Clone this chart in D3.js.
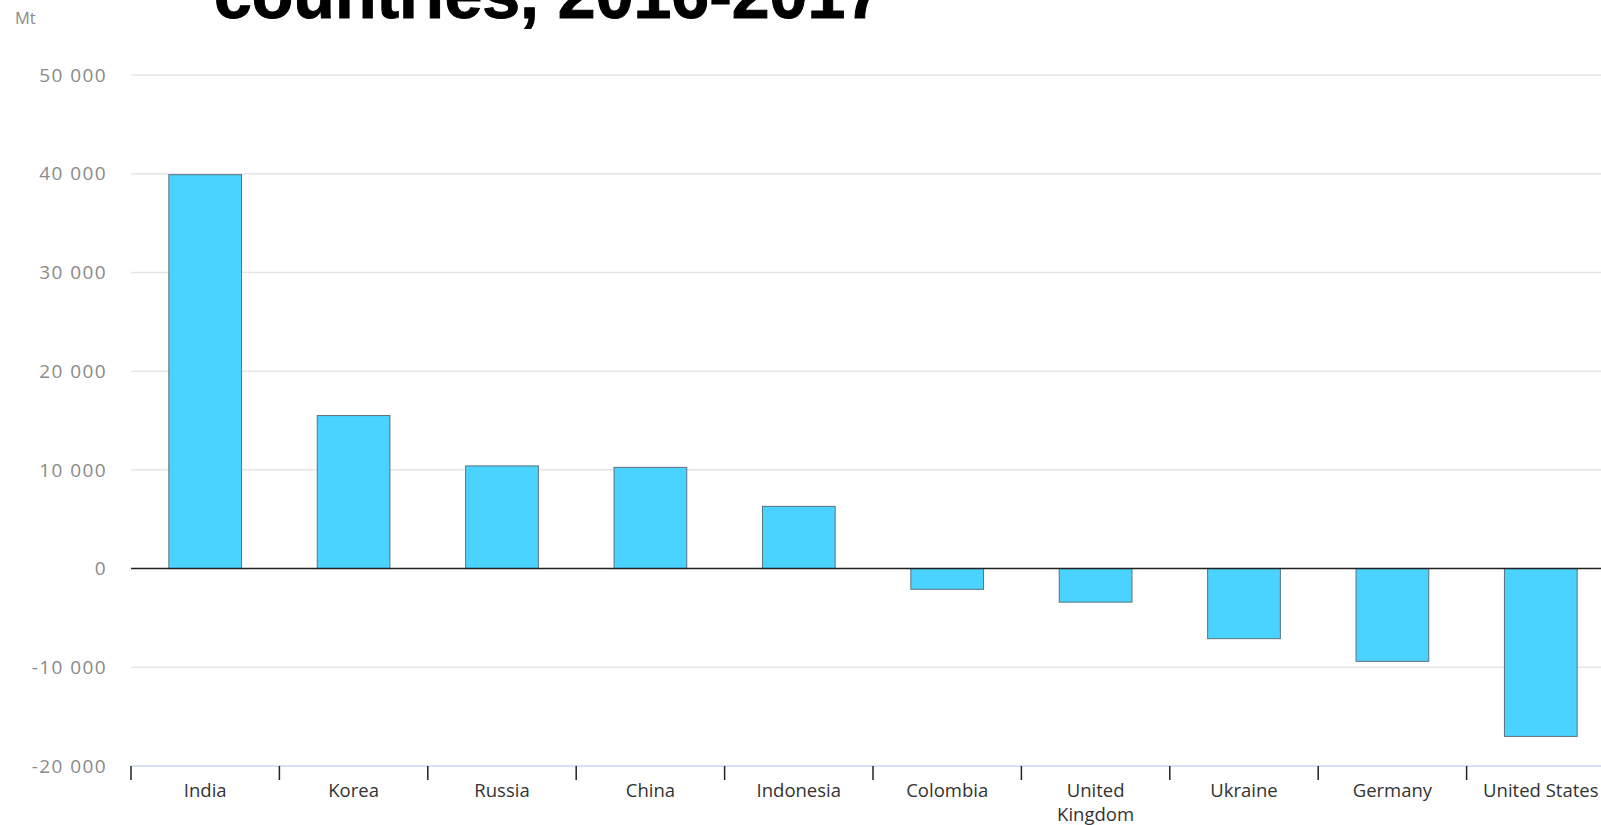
<!DOCTYPE html>
<html>
<head>
<meta charset="utf-8">
<script src="https://cdn.jsdelivr.net/npm/d3@7"></script>
<style>
  html, body { margin: 0; padding: 0; background: #fff; overflow: hidden; }
  svg { display: block; }
</style>
</head>
<body>
<div id="chart"></div>
<script>
// countries and change in coal (Mt)
const countries = ["India", "Korea", "Russia", "China", "Indonesia", "Colombia", "United Kingdom", "Ukraine", "Germany", "United States"]
const change = [39900, 15500, 10400, 10250, 6300, -2100, -3400, -7100, -9400, -17000]
const yTicks = [-20000, -10000, 0, 10000, 20000, 30000, 40000, 50000]
const titleText = "countries, 2016-2017"
const unitText = "Mt"

const width = 1601
const height = 825

const svg = d3.select("#chart")
  .append("svg")
  .attr("width", width)
  .attr("height", height)

const left = 131
const step = 148.4
const x = d3.scaleBand()
  .domain(countries)
  .range([left, left + step * countries.length])
  .padding(0)

const y = d3.scaleLinear()
  .domain([-20000, 50000])
  .range([766, 75])

// "50 000", "-10 000" with a plain hyphen like the original
const fmt = v => d3.format(",")(v).replace(/,/g, " ").replace("\u2212", "-")

// gridlines
svg.append("g")
  .selectAll("line")
  .data(yTicks.filter(d => d !== 0 && d !== -20000))
  .enter()
  .append("line")
  .attr("x1", left)
  .attr("x2", width)
  .attr("y1", d => y(d))
  .attr("y2", d => y(d))
  .style("stroke", "#e6e6e6")
  .style("stroke-width", 1.5)

// y labels
svg.append("g")
  .selectAll("text")
  .data(yTicks)
  .enter()
  .append("text")
  .attr("x", 107)
  .attr("y", d => y(d))
  .attr("dy", "0.35em")
  .attr("text-anchor", "end")
  .style("font-family", "'Open Sans', sans-serif")
  .style("font-size", "19px")
  .style("letter-spacing", "1.4px")
  .style("fill", "#8a8a8a")
  .text(d => fmt(d))

// bottom axis line + ticks
svg.append("line")
  .attr("x1", left)
  .attr("x2", width)
  .attr("y1", y(-20000))
  .attr("y2", y(-20000))
  .style("stroke", "#cdd8f2")
  .style("stroke-width", 1.5)

svg.append("g")
  .selectAll("line")
  .data(countries)
  .enter()
  .append("line")
  .attr("x1", d => x(d))
  .attr("x2", d => x(d))
  .attr("y1", y(-20000))
  .attr("y2", y(-20000) + 14)
  .style("stroke", "#222")
  .style("stroke-width", 1.5)

// bars
const barW = x.bandwidth() * 0.49
svg.append("g")
  .selectAll("rect")
  .data(countries)
  .enter()
  .append("rect")
  .attr("x", d => x(d) + (x.bandwidth() - barW) / 2)
  .attr("width", barW)
  .attr("y", (d, i) => y(Math.max(0, change[i])))
  .attr("height", (d, i) => Math.abs(y(change[i]) - y(0)))
  .style("fill", "#49d3fe")
  .style("stroke", "#5b717c")
  .style("stroke-width", 1)

// zero line
svg.append("line")
  .attr("x1", left)
  .attr("x2", width)
  .attr("y1", y(0))
  .attr("y2", y(0))
  .style("stroke", "#222")
  .style("stroke-width", 1.6)

// x labels, wrap "United Kingdom"
const xl = svg.append("g")
  .selectAll("text")
  .data(countries)
  .enter()
  .append("text")
  .attr("text-anchor", "middle")
  .attr("x", d => x(d) + x.bandwidth() / 2)
  .attr("y", 797)
  .style("font-family", "'Open Sans', sans-serif")
  .style("font-size", "18.5px")
  .style("fill", "#333")

xl.each(function(d) {
  const t = d3.select(this)
  const words = d === "United Kingdom" ? ["United", "Kingdom"] : [d]
  words.forEach((w, k) => {
    t.append("tspan")
      .attr("x", x(d) + x.bandwidth() / 2)
      .attr("dy", k === 0 ? 0 : 24)
      .text(w)
  })
})

// unit and title
svg.append("text")
  .attr("x", 15)
  .attr("y", 24)
  .style("font-family", "'Open Sans', sans-serif")
  .style("font-size", "16.5px")
  .style("fill", "#8a8a8a")
  .text(unitText)

svg.append("text")
  .attr("x", 214)
  .attr("y", 18)
  .style("font-family", "'Liberation Sans', Arial, sans-serif")
  .style("font-weight", "bold")
  .style("font-size", "68px")
  .style("stroke", "#000")
  .style("stroke-width", 1)
  .style("fill", "#000")
  .text(titleText)
</script>
</body>
</html>
